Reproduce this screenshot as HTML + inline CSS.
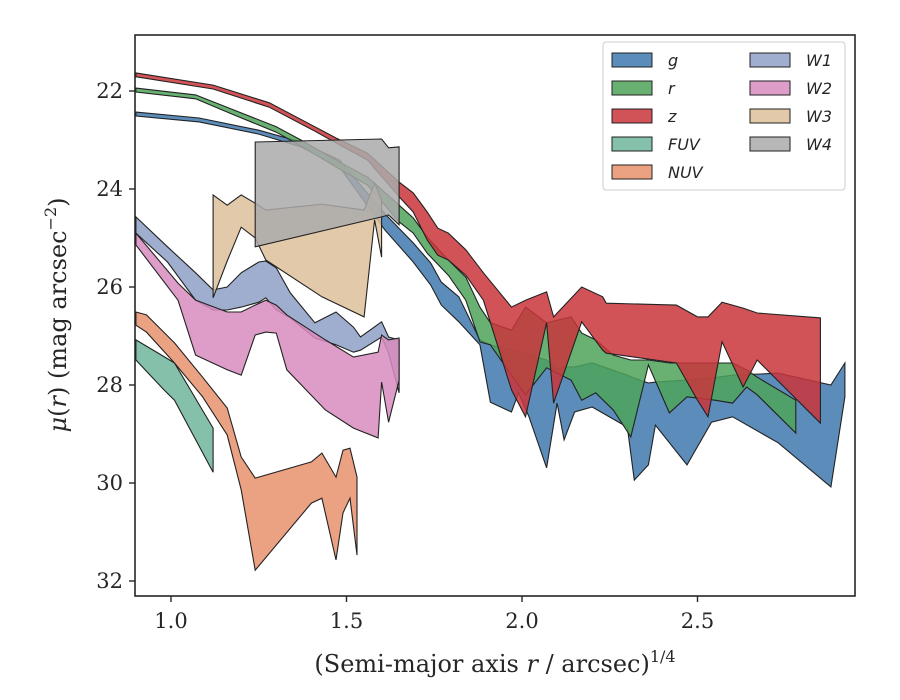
<!DOCTYPE html>
<html><head><meta charset="utf-8"><style>body{margin:0;background:#fff}svg{display:block}</style></head>
<body>
<svg id="chart" width="900" height="700" xmlns="http://www.w3.org/2000/svg" font-family="'DejaVu Serif','Liberation Serif',serif">
<rect width="900" height="700" fill="#fff"/>
<g id="bands"></g>
<rect x="135" y="35" width="720" height="561" fill="none" stroke="#262626" stroke-width="1.6"/>
<g id="axes"></g>
<text x="495" y="672" text-anchor="middle" font-size="24" fill="#262626">(Semi-major axis <tspan font-style="italic">r</tspan> / arcsec)<tspan dy="-10" font-size="16">1/4</tspan></text>
<text transform="translate(66,315) rotate(-90)" text-anchor="middle" font-size="24" fill="#262626"><tspan font-style="italic">μ</tspan>(<tspan font-style="italic">r</tspan>) (mag arcsec<tspan dy="-10" font-size="16">−2</tspan><tspan dy="10">)</tspan></text>
<g id="legend"></g>
</svg>
<script>
const xTicks=[1.0,1.5,2.0,2.5];
const xTickLabels=["1.0","1.5","2.0","2.5"];
const yTicks=[22,24,26,28,30,32];
const yTickLabels=["22","24","26","28","30","32"];
const seriesNames=["g","r","z","FUV","NUV","W1","W2","W3","W4"];

const gX=[0.90,1.08,1.25,1.37,1.48,1.61,1.69,1.74,1.77,1.82,1.88,1.91,1.97,1.99,2.02,2.07,2.10,2.12,2.15,2.20,2.30,2.32,2.36,2.38,2.47,2.54,2.60,2.73,2.88,2.92];
const gLo=[22.43,22.55,22.80,23.04,23.41,24.51,25.10,25.51,25.90,26.20,27.08,27.18,27.29,27.33,27.39,27.49,27.69,27.63,27.63,27.55,27.80,27.86,27.96,27.94,27.90,27.86,27.80,27.76,28.00,27.55];
const gHi=[22.51,22.63,22.88,23.14,23.55,24.84,25.49,25.96,26.37,26.71,27.18,28.35,28.55,28.16,28.65,29.69,28.37,29.12,28.55,28.45,28.86,29.94,29.63,28.82,29.63,28.76,28.65,29.18,30.08,28.24];

const rX=[0.90,1.07,1.18,1.30,1.37,1.47,1.56,1.65,1.69,1.73,1.79,1.84,1.88,1.91,1.97,2.01,2.07,2.14,2.17,2.21,2.26,2.31,2.36,2.42,2.47,2.55,2.60,2.64,2.67,2.78];
const rLo=[21.94,22.08,22.39,22.73,23.00,23.41,23.76,24.33,24.59,24.98,25.45,25.80,26.41,26.73,26.88,26.41,26.73,26.61,26.94,27.08,27.39,27.49,27.49,27.55,27.55,27.55,27.55,27.69,27.84,28.31];
const rHi=[22.02,22.16,22.49,22.84,23.12,23.55,23.92,24.67,24.90,25.31,25.76,26.27,27.12,27.18,27.80,28.20,27.65,27.90,28.31,28.16,28.51,29.06,27.59,28.57,28.24,28.31,28.37,28.04,28.20,28.98];

const zX=[0.90,1.12,1.28,1.41,1.47,1.56,1.65,1.69,1.73,1.76,1.79,1.84,1.89,1.97,2.01,2.07,2.09,2.17,2.23,2.24,2.44,2.50,2.53,2.57,2.63,2.67,2.85];
const zLo=[21.63,21.88,22.24,22.73,22.96,23.27,23.86,24.08,24.47,24.80,24.90,25.24,25.71,26.41,26.27,26.10,26.61,26.00,26.20,26.33,26.37,26.61,26.61,26.31,26.43,26.53,26.63];
const zHi=[21.71,21.96,22.33,22.82,23.06,23.41,24.16,24.47,25.04,25.35,25.45,25.76,26.27,28.10,28.65,26.73,28.37,26.71,27.29,27.35,27.55,28.31,28.65,27.12,28.04,27.49,28.78];

const fuvX=[0.90,0.98,1.01,1.12];
const fuvLo=[27.08,27.42,27.55,28.88];
const fuvHi=[27.49,28.10,28.31,29.78];

const nuvX=[0.90,0.93,1.01,1.09,1.16,1.20,1.24,1.40,1.43,1.47,1.49,1.51,1.53];
const nuvLo=[26.51,26.57,27.14,27.84,28.47,29.47,29.90,29.57,29.39,29.88,29.33,29.29,29.88];
const nuvHi=[26.78,26.92,27.55,28.24,29.02,30.14,31.78,30.41,30.31,31.57,30.61,30.31,31.47];

const w1X=[0.90,0.99,1.07,1.12,1.16,1.20,1.25,1.27,1.30,1.34,1.41,1.47,1.52,1.54,1.60,1.62,1.65];
const w1Lo=[24.57,25.18,25.71,26.06,26.00,25.71,25.49,25.47,25.61,26.12,26.73,26.51,26.82,27.02,26.71,27.02,27.08];
const w1Hi=[24.90,25.49,26.27,26.47,26.47,26.41,26.31,26.22,26.47,26.63,27.04,27.18,27.33,27.29,27.02,27.35,28.16];

const w2X=[0.90,1.02,1.07,1.16,1.20,1.24,1.27,1.30,1.33,1.44,1.52,1.59,1.60,1.62,1.65];
const w2Lo=[24.90,25.92,26.27,26.51,26.51,26.37,26.27,26.37,26.57,27.08,27.43,27.33,26.98,27.08,27.04];
const w2Hi=[25.14,26.27,27.39,27.69,27.80,26.98,26.92,26.94,27.69,28.51,28.88,29.08,27.94,28.76,27.90];

const w3X=[1.12,1.16,1.20,1.24,1.27,1.43,1.55,1.58,1.60];
const w3Lo=[24.12,24.33,24.12,24.29,24.43,24.31,24.43,23.88,24.22];
const w3Hi=[26.22,25.47,24.78,25.00,25.45,26.20,26.61,24.63,25.39];

const w4X=[1.24,1.60,1.62,1.65];
const w4Lo=[23.04,22.98,23.16,23.14];
const w4Hi=[25.18,24.57,24.53,24.73];

const colors=["#3f78ad","#4ea35a","#c9353b","#6fb59b","#e8926d","#8e9fc5","#d88cbe","#dcc09b","#aaaaaa"];
const series=[[gX,gLo,gHi],[rX,rLo,rHi],[zX,zLo,zHi],[fuvX,fuvLo,fuvHi],[nuvX,nuvLo,nuvHi],[w1X,w1Lo,w1Hi],[w2X,w2Lo,w2Hi],[w3X,w3Lo,w3Hi],[w4X,w4Lo,w4Hi]];

const NS="http://www.w3.org/2000/svg";
const X0=0.9, PX0=135.9, PXU=351, Y0=22, PY0=91, PYU=49;
function sx(v){return PX0+(v-X0)*PXU;}
function sy(v){return PY0+(v-Y0)*PYU;}
function mk(tag,attrs,parent){const e=document.createElementNS(NS,tag);for(const k in attrs)e.setAttribute(k,attrs[k]);parent.appendChild(e);return e;}

const bands=document.getElementById('bands');
series.forEach((s,i)=>{
  const [xs,lo,hi]=s;
  let pts=[];
  for(let j=0;j<xs.length;j++)pts.push(sx(xs[j]).toFixed(1)+","+sy(lo[j]).toFixed(1));
  for(let j=xs.length-1;j>=0;j--)pts.push(sx(xs[j]).toFixed(1)+","+sy(hi[j]).toFixed(1));
  const p=mk('polygon',{points:pts.join(' '),fill:colors[i],'fill-opacity':0.85,stroke:'#222','stroke-width':1.1,'stroke-linejoin':'miter'},bands);
  
  
});

const axes=document.getElementById('axes');
xTicks.forEach((v,i)=>{
  const x=sx(v);
  const t=mk('line',{x1:x,x2:x,y1:596,y2:602,stroke:'#262626','stroke-width':1.4},axes);
  
  
  const l=mk('text',{x:x,y:628,'text-anchor':'middle','font-size':21,fill:'#262626'},axes);
  l.textContent=xTickLabels[i];
  
  
});
yTicks.forEach((v,i)=>{
  const y=sy(v);
  const t=mk('line',{x1:129,x2:135,y1:y,y2:y,stroke:'#262626','stroke-width':1.4},axes);
  
  
  const l=mk('text',{x:123,y:y+7,'text-anchor':'end','font-size':21,fill:'#262626'},axes);
  l.textContent=yTickLabels[i];
  
  
});

const leg=document.getElementById('legend');
const box=mk('rect',{x:603,y:42,width:242,height:148,rx:3,fill:'#fff','fill-opacity':0.8,stroke:'#ccc','stroke-width':1},leg);


seriesNames.forEach((n,i)=>{
  const col=i<5?0:1, row=i<5?i:i-5;
  const px=col?750:612, py=53+row*28;
  const g=mk('g',{},leg);
  
  
  mk('rect',{x:px,y:py,width:40,height:14,fill:colors[i],'fill-opacity':0.85,stroke:'#222','stroke-width':1},g);
  const t=mk('text',{x:px+56,y:py+13,'font-size':16,'font-style':'italic','font-family':"'DejaVu Sans','Liberation Sans',sans-serif",fill:'#262626'},g);
  t.textContent=n;
});
</script>
</body></html>
